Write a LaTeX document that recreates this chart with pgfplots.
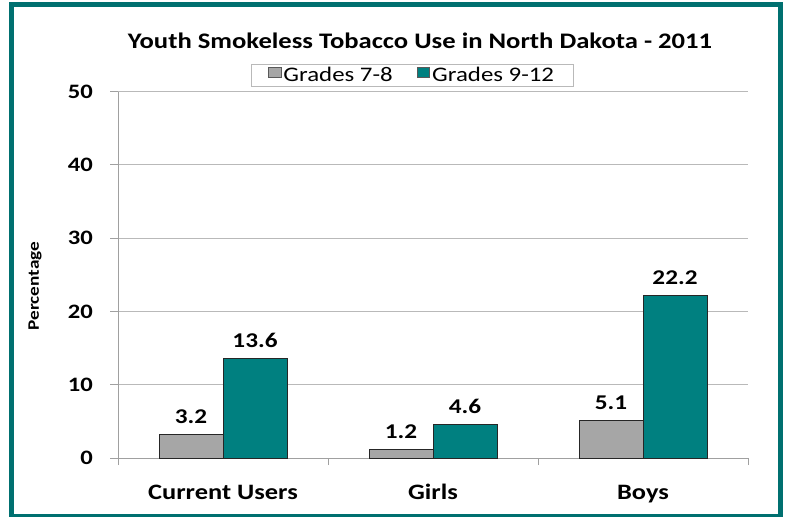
\documentclass[border=0pt]{standalone}
\usepackage{fontspec}
\setmainfont{Carlito}[FakeStretch=1.2]
\usepackage{pgfplots}
\pgfplotsset{compat=1.18}
\definecolor{barteal}{RGB}{0,128,128}
\definecolor{framec}{RGB}{0,112,112}
\definecolor{bargray}{RGB}{166,166,166}
\definecolor{gridc}{RGB}{185,185,185}
\definecolor{axisc}{RGB}{160,160,160}

\begin{document}
\begin{tikzpicture}[x=1pt,y=1pt]
\useasboundingbox (0,0) rectangle (786,516);
\draw[framec, line width=5pt] (11.5,-0.5) rectangle (780.5,511.2);
\node[font=\bfseries\fontsize{22.2}{26}\selectfont, anchor=base] at (420,467) {Youth Smokeless Tobacco Use in North Dakota - 2011};
\begin{axis}[
  at={(118pt,58pt)}, anchor=south west, scale only axis,
  width=630pt, height=366.5pt,
  ybar=0pt, bar width=64pt,
  xmin=-0.5, xmax=2.5, ymin=0, ymax=50,
  xtick={0,1,2}, xticklabels={Current Users,Girls,Boys},
  minor xtick={-0.5,0.5,1.5,2.5},
  ytick={0,10,20,30,40,50},
  /pgf/number format/assume math mode=true,
  ymajorgrids, grid style={gridc, line width=0.8pt},
  axis x line*=bottom, axis y line*=left,
  axis line style={draw=axisc, line width=1pt},
  tick style={draw=axisc, line width=1pt},
  tick align=outside, major tick length=8pt, minor tick length=7pt,
  major x tick style={draw=none},
  xticklabel style={font=\bfseries\fontsize{22}{26}\selectfont, anchor=base, yshift=-33pt},
  yticklabel style={font=\bfseries\fontsize{20.5}{24}\selectfont, anchor=east, xshift=-17pt, inner sep=0pt},
  ylabel={Percentage},
  ylabel style={font=\bfseries\fontsize{16}{19}\selectfont, at={(axis description cs:-0.1317,0.469)}, anchor=center},
  nodes near coords,
  every node near coord/.append style={font=\bfseries\fontsize{21}{24}\selectfont, anchor=base, yshift=11pt, inner sep=0pt},
  legend columns=2,
  legend style={at={(axis description cs:0.4667,1.0436)}, anchor=center, draw=gridc, line width=0.8pt,
    font=\fontsize{20.7}{24}\selectfont, inner xsep=17pt, inner ysep=1pt,
    /tikz/every even column/.append style={column sep=22pt}},
  legend image code/.code={\draw[#1, draw=black!65, line width=0.8pt] (0pt,-2pt) rectangle (12.7pt,8pt);},
]
\addplot[fill=bargray, draw=black!85, line width=0.8pt] coordinates {(0,3.2) (1,1.2) (2,5.1)};
\addplot[fill=barteal, draw=black!85, line width=0.8pt] coordinates {(0,13.6) (1,4.6) (2,22.2)};
\legend{Grades 7-8, Grades 9-12}
\end{axis}
\end{tikzpicture}
\end{document}
